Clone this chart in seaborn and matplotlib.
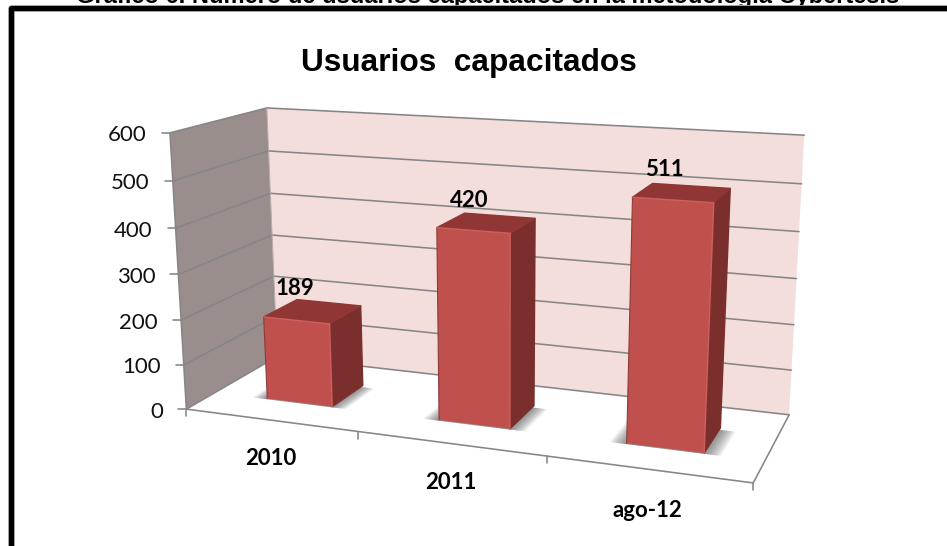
import numpy as np
import matplotlib
matplotlib.use("Agg")
import matplotlib.pyplot as plt
import matplotlib.transforms as mtransforms
from matplotlib.patches import Polygon
import seaborn as sns

# ---- data ----
categories = ["2010", "2011", "ago-12"]
values = [189, 420, 511]
y_ticks = [0, 100, 200, 300, 400, 500, 600]
page_caption = "Gráfico 6. Número de usuarios capacitados en la metodología Cybertesis"
chart_title = "Usuarios  capacitados"

# ---- camera calibration: (category pos, depth, value) -> image pixel ----
calib_world = np.array([(0, 0, 0), (1, 0, 0), (2, 0, 0), (3, 0, 0), (0, 1, 0), (3, 1, 0),
                        (0, 0, 600), (0, 1, 600), (3, 1, 600),
                        (0, 0, 300), (0, 1, 300), (3, 1, 300)], float)
calib_pix = np.array([(187, 408), (358, 433), (547, 456), (753, 483), (277, 357), (789, 414),
                      (170, 133), (267, 108), (804, 135),
                      (178, 274), (272, 235), (797, 279)], float)
SC = np.array([3.0, 1.0, 600.0])


def fit_camera(W, P):
    rows = []
    for (a, b, c), (u, v) in zip(W / SC, P / 500.0):
        rows.append([a, b, c, 1, 0, 0, 0, 0, -u * a, -u * b, -u * c, -u])
        rows.append([0, 0, 0, 0, a, b, c, 1, -v * a, -v * b, -v * c, -v])
    return np.linalg.svd(np.array(rows))[2][-1].reshape(3, 4)


CAM = fit_camera(calib_world, calib_pix)


def proj(c, d, v):
    c, d, v = np.broadcast_arrays(np.asarray(c, float), np.asarray(d, float), np.asarray(v, float))
    h = np.stack([c / 3.0, d, v / 600.0, np.ones_like(c, dtype=float)], axis=-1) @ CAM.T
    return h[..., :2] / h[..., 2:3] * 500.0


CENTER = 0.511   # bar centre inside its category slot
BEVEL = 0.99     # the bevelled cap sits slightly under the nominal height


class FrontPlane(mtransforms.Transform):
    """Maps seaborn's (x, value) bar coordinates onto a plane at a given floor depth."""
    input_dims = output_dims = 2
    is_separable = False
    has_inverse = False

    def __init__(self, floor_depth):
        super().__init__()
        self.floor_depth = floor_depth

    def transform_non_affine(self, xy):
        xy = np.asarray(xy, float)
        return proj(xy[:, 0] + CENTER, self.floor_depth, xy[:, 1] * BEVEL)


sns.set_style("white")
fig = plt.figure(figsize=(9.47, 5.46), dpi=100, facecolor="white")
ax = fig.add_axes([0, 0, 1, 1])

HALF = 0.194
D0, D1 = 0.30, 0.68
positions = np.arange(len(values))
sns.barplot(x=positions, y=values, native_scale=True, color="#C0504D", saturation=1,
            width=2 * HALF, linewidth=0, ax=ax, zorder=5)
plane = FrontPlane(D0)
for p in ax.patches:
    p.set_transform(plane + ax.transData)
    p.set_clip_on(False)
ax.set_xlim(0, 947)
ax.set_ylim(546, 0)
ax.axis("off")

GRID = "#868686"
LW = 1.15


def quad(c, d, v, **kw):
    kw.setdefault("linewidth", 0)
    ax.add_patch(Polygon(proj(c, d, v), closed=True, **kw))


def seg(c, d, v, **kw):
    pts = proj(c, d, v)
    ax.plot(pts[:, 0], pts[:, 1], solid_capstyle="round", **kw)


# walls and floor
quad([0, 3, 3, 0], 1, [0, 0, 600, 600], color="#F3DEDC", zorder=1)
quad(0, [0, 1, 1, 0], [0, 0, 600, 600], color="#9A8E8D", zorder=1)
for t in y_ticks:
    seg([0, 3], 1, t, color=GRID, lw=LW, zorder=2)
    seg(0, [0, 1], t, color=GRID, lw=LW, zorder=2)
    a = proj(0, 0, t)
    ax.plot([a[0] - 8, a[0]], [a[1], a[1]], color=GRID, lw=LW, zorder=2)
    ax.text(a[0] - 23, a[1] + 2.5, str(t), ha="right", va="center", fontsize=16,
            family="Lato", color="#111111", zorder=8)
seg([0, 0], [0, 0], [600, 0], color=GRID, lw=LW, zorder=2)
seg([0, 0], [1, 1], [600, 0], color="#B9ABAA", lw=0.7, zorder=2)
seg([0, 3], 0, 0, color=GRID, lw=LW, zorder=2)
seg(3, [0, 1], 0, color=GRID, lw=LW, zorder=2)
for c in range(4):
    a = proj(c, 0, 0)
    ax.plot([a[0], a[0]], [a[1], a[1] + 7], color=GRID, lw=LW, zorder=2)

# bar volumes around seaborn's front faces
TOP, SIDE = "#903635", "#7A2F2D"
for i, v in enumerate(values):
    l, r = i + CENTER - HALF, i + CENTER + HALF
    h = v * BEVEL
    # soft shadow on the floor
    for e in np.linspace(0.085, 0.0, 16):
        quad([l - e, r + e, r + e, l - e], [D0 - 0.01, D0 - 0.01, D1 - 0.03, D1 - 0.03], 0,
             color="#4A4A4A", alpha=0.055, zorder=3)
    quad([r, r, r, r], [D0, D1, D1, D0], [0, 0, h, h], facecolor=SIDE, edgecolor=SIDE,
         linewidth=1.0, joinstyle="round", zorder=4)
    quad([l, r, r, l], [D0, D0, D1, D1], h, facecolor=TOP, edgecolor=TOP,
         linewidth=1.0, joinstyle="round", zorder=4)
    seg([l, l], D0, [0, h], color="#8C3B39", lw=0.8, zorder=6)
    seg([r, r], D0, [0, h], color="#CB605C", lw=1.0, zorder=6)
    seg([l, r], D0, h, color="#CB605C", lw=1.0, zorder=6)
    tip = proj(l, D1, h)
    ax.text(tip[0] - 2 + 7 * i, tip[1] - 11 - 1.5 * i, str(v), ha="center", va="center",
            fontsize=16, family="Lato", fontweight="bold", color="black", zorder=8)
    base = proj(i + 0.5, 0, 0)
    ax.text(base[0], base[1] + 38 + 1.5 * i, categories[i], ha="center", va="center", fontsize=16,
            family="Lato", fontweight="bold", color="black", zorder=8)

ax.text(469, 62.5, chart_title, ha="center", va="center", fontsize=22.8,
        family="Liberation Sans", fontweight="bold", color="black", zorder=8)
ax.text(487.5, 3.5, page_caption, ha="center", va="baseline", fontsize=17,
        family="Liberation Sans", fontweight="bold", color="black", zorder=8)

# outer frame (left and top sides only reach the picture)
ax.plot([11, 11, 947], [546, 7.5, 7.5], color="#BDBDBD", lw=5.0, solid_joinstyle="round", zorder=9)
ax.plot([11, 11, 947], [546, 7.5, 7.5], color="black", lw=3.8, solid_joinstyle="round", zorder=10)

fig.savefig("out.png", dpi=100, facecolor="white")
